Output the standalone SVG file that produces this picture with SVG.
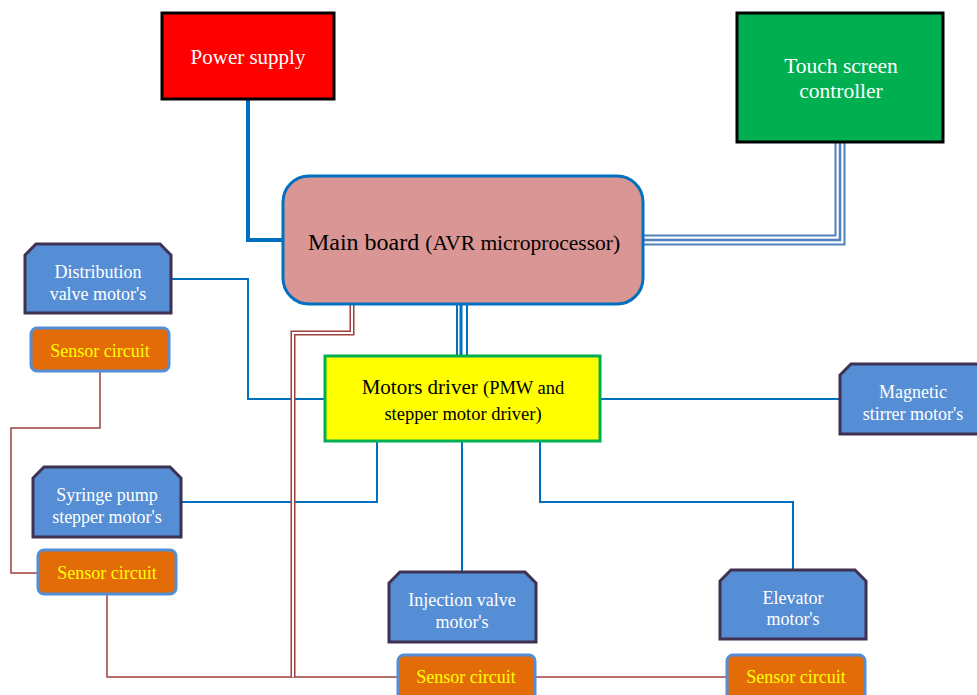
<svg xmlns="http://www.w3.org/2000/svg" width="977" height="695" viewBox="0 0 977 695">
<style>
text{font-family:"Liberation Serif","Times New Roman",serif;text-anchor:middle}
.motor{fill:#558ED5;stroke:#3F3151;stroke-width:3}
.mt{fill:#FFFFFF;font-size:18px}
.sensor{fill:#E36C09;stroke:#558ED5;stroke-width:3}
.st{fill:#FFFF00;font-size:18px}
.blue{fill:none;stroke:#0070C0;stroke-width:2}
.brown{fill:none;stroke:#A0403E;stroke-width:1.5}
</style>
<rect width="977" height="695" fill="#FFFFFF"/>
<g id="connectors">
  <path d="M248,99 V240 H283" fill="none" stroke="#0070C0" stroke-width="4"/>
  <path d="M840,142 V240 H643" fill="none" stroke="#4F81BD" stroke-width="11"/>
  <path d="M840,142 V240 H643" fill="none" stroke="#FFFFFF" stroke-width="7"/>
  <path d="M840,142 V240 H643" fill="none" stroke="#4F81BD" stroke-width="2.5"/>
  <path d="M462,304 V356" fill="none" stroke="#0070C0" stroke-width="12"/>
  <path d="M462,304 V356" fill="none" stroke="#FFFFFF" stroke-width="8"/>
  <path d="M461,304 V356" fill="none" stroke="#0070C0" stroke-width="3"/>
  <path d="M171,279 H248 V399 H325" class="blue"/>
  <path d="M181,502 H377 V441" class="blue"/>
  <path d="M462,441 V572" class="blue"/>
  <path d="M540,441 V502 H793 V570" class="blue"/>
  <path d="M600,399 H840" class="blue"/>
  <path d="M100,371 V428 H11 V573 H38" class="brown"/>
  <path d="M107,594 V677 H397" class="brown"/>
  <path d="M535,677 H727" class="brown"/>
  <path d="M352,304 V333 H293 V677" fill="none" stroke="#A0403E" stroke-width="5"/>
  <path d="M352,304 V333 H293 V677" fill="none" stroke="#FFFFFF" stroke-width="2"/>
</g>
<g id="power-supply">
  <rect x="162" y="13" width="172" height="86" fill="#FF0000" stroke="#000000" stroke-width="3"/>
  <text x="248" y="64" fill="#FFFFFF" font-size="21">Power supply</text>
</g>
<g id="touch-screen">
  <rect x="737" y="13" width="206" height="129" fill="#00B050" stroke="#000000" stroke-width="3"/>
  <text x="841" y="73" fill="#FFFFFF" font-size="21.5">Touch screen</text>
  <text x="841" y="98" fill="#FFFFFF" font-size="21.5">controller</text>
</g>
<g id="main-board">
  <rect x="283" y="176" width="360" height="128" rx="26" fill="#D99694" stroke="#0070C0" stroke-width="3"/>
  <text x="464" y="250" fill="#000000"><tspan font-size="24">Main board </tspan><tspan font-size="21.5">(AVR microprocessor)</tspan></text>
</g>
<g id="motors-driver">
  <rect x="325" y="356" width="275" height="85" fill="#FFFF00" stroke="#00B050" stroke-width="3"/>
  <text x="463" y="394" fill="#000000"><tspan font-size="21">Motors driver </tspan><tspan font-size="18.5">(PMW and</tspan></text>
  <text x="463" y="420" fill="#000000" font-size="18.5">stepper motor driver)</text>
</g>
<g id="distribution-valve">
  <path d="M36,244 H160 L171,255 V313 H25 V255 Z" class="motor"/>
  <text x="98" y="278" class="mt">Distribution</text>
  <text x="98" y="300" class="mt">valve motor's</text>
</g>
<g id="sensor-1">
  <rect x="31" y="328" width="138" height="43" rx="6" class="sensor"/>
  <text x="100" y="357" class="st">Sensor circuit</text>
</g>
<g id="syringe-pump">
  <path d="M44,467 H170 L181,478 V537 H33 V478 Z" class="motor"/>
  <text x="107" y="501" class="mt">Syringe pump</text>
  <text x="107" y="523" class="mt">stepper motor's</text>
</g>
<g id="sensor-2">
  <rect x="38" y="550" width="138" height="44" rx="6" class="sensor"/>
  <text x="107" y="579" class="st">Sensor circuit</text>
</g>
<g id="injection-valve">
  <path d="M400,572 H525 L536,583 V642 H389 V583 Z" class="motor"/>
  <text x="462" y="606" class="mt">Injection valve</text>
  <text x="462" y="628" class="mt">motor's</text>
</g>
<g id="sensor-3">
  <rect x="398" y="655" width="137" height="46" rx="6" class="sensor"/>
  <text x="466" y="683" class="st">Sensor circuit</text>
</g>
<g id="elevator">
  <path d="M731,570 H855 L866,581 V639 H720 V581 Z" class="motor"/>
  <text x="793" y="604" class="mt">Elevator</text>
  <text x="793" y="625" class="mt">motor's</text>
</g>
<g id="sensor-4">
  <rect x="727" y="655" width="138" height="46" rx="6" class="sensor"/>
  <text x="796" y="683" class="st">Sensor circuit</text>
</g>
<g id="magnetic-stirrer">
  <path d="M851,364 H977 L988,375 V434 H840 V375 Z" class="motor"/>
  <text x="913" y="398" class="mt">Magnetic</text>
  <text x="913" y="420" class="mt">stirrer motor's</text>
</g>
</svg>
